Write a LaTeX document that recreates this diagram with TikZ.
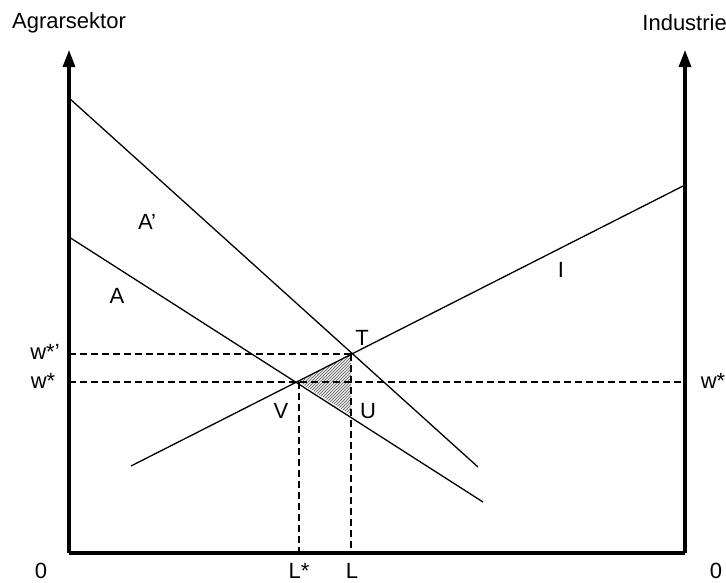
\documentclass[tikz,border=0pt]{standalone}
\usepackage{fontspec}
\setmainfont{Liberation Sans}
\usetikzlibrary{arrows.meta,patterns}
\begin{document}
\begin{tikzpicture}[x=1pt,y=-1pt,
  lbl/.style={font=\fontsize{22}{26}\selectfont, inner sep=0pt},
  axis/.style={line width=3.2pt, -{Triangle[length=17pt,width=12pt]}},
  base/.style={line width=3.2pt},
  curve/.style={line width=1.3pt},
  guide/.style={line width=2pt, dash pattern=on 7pt off 4pt}]
\useasboundingbox (0,0) rectangle (726,582);
% key points
\coordinate (O1) at (69,553);
\coordinate (O2) at (685,553);
\coordinate (Ltop) at (69,50);
\coordinate (Rtop) at (685,50);
\coordinate (T) at (351,354);
\coordinate (V) at (299,382);
\coordinate (U) at (351,415);
\coordinate (Ap1) at (69,98);
\coordinate (Ap2) at (478,467);
\coordinate (A1) at (69,237);
\coordinate (A2) at (483,502);
\coordinate (I1) at (131,466);
\coordinate (I2) at (685,185);
\coordinate (Wp) at (69,354);
\coordinate (W) at (69,382);
\coordinate (WR) at (685,382);
\coordinate (Ls) at (299,553);
\coordinate (Lb) at (351,553);
% hatched triangle
\fill[gray!15] (V) -- (T) -- (U) -- cycle;
\fill[pattern=north east lines, pattern color=gray!70!black] (V) -- (T) -- (U) -- cycle;
% guides
\draw[guide] (Wp) -- (T);
\draw[guide] (W) -- (WR);
\draw[guide] (V) -- (Ls);
\draw[guide] (T) -- (Lb);
% curves
\draw[curve] (Ap1) -- (Ap2);
\draw[curve] (A1) -- (A2);
\draw[curve] (I1) -- (I2);
% axes
\draw[axis] (O1) -- (Ltop);
\draw[axis] (O2) -- (Rtop);
\draw[base] (O1) -- (O2);
% labels
\node[lbl] (agr) at (69,23) {Agrarsektor};
\node[lbl, anchor=east] (ind) at (727,23) {Industrie};
\node[lbl] (lAp) at (147,222) {A’};
\node[lbl] (lA) at (117,296) {A};
\node[lbl] (lI) at (561,270) {I};
\node[lbl] (lT) at (362,338) {T};
\node[lbl] (lV) at (281,411) {V};
\node[lbl] (lU) at (368,411) {U};
\node[lbl] (lwp) at (45,352) {w*’};
\node[lbl] (lw) at (43,381) {w*};
\node[lbl] (lwr) at (713,381) {w*};
\node[lbl] (l0a) at (41,571) {0};
\node[lbl, anchor=south] (lLs) at (299,579) {L*};
\node[lbl, anchor=south] (lL) at (352,579) {L};
\node[lbl, anchor=south] (l0b) at (716,579) {0};
\end{tikzpicture}
\end{document}
